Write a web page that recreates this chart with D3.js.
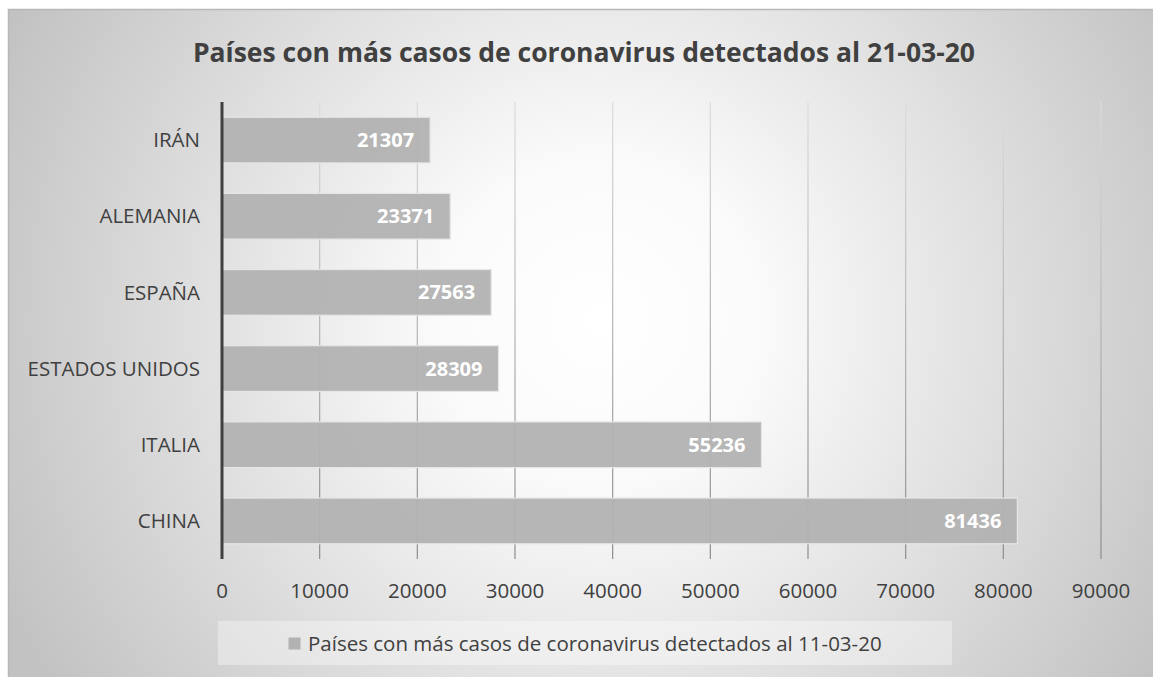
<!DOCTYPE html>
<html lang="es">
<head>
<meta charset="UTF-8">
<script src="https://cdn.jsdelivr.net/npm/d3@7"></script>
<style>
  * { margin: 0; padding: 0; }
  body { background: #fff; width: 1153px; height: 677px; overflow: hidden; }
  text { font-family: "Open Sans", "Noto Sans", sans-serif; }
</style>
</head>
<body>
<script>
  const paises = ["CHINA", "ITALIA", "ESTADOS UNIDOS", "ESPAÑA", "ALEMANIA", "IRÁN"];
  const casos = [81436, 55236, 28309, 27563, 23371, 21307];
  const ticks = [0, 10000, 20000, 30000, 40000, 50000, 60000, 70000, 80000, 90000];
  const titulo = "Países con más casos de coronavirus detectados al 21-03-20";
  const leyenda = "Países con más casos de coronavirus detectados al 11-03-20";

  const W = 1153, H = 677;
  const svg = d3.select("body").append("svg").attr("width", W).attr("height", H);
  const defs = svg.append("defs");

  const bg = defs.append("radialGradient").attr("id", "bg")
    .attr("gradientUnits", "userSpaceOnUse")
    .attr("cx", 600).attr("cy", 320).attr("r", 660);
  bg.append("stop").attr("offset", "0%").attr("stop-color", "#ffffff");
  bg.append("stop").attr("offset", "25%").attr("stop-color", "#fafafa");
  bg.append("stop").attr("offset", "100%").attr("stop-color", "#c2c2c2");

  const gl = defs.append("linearGradient").attr("id", "grid")
    .attr("gradientUnits", "userSpaceOnUse")
    .attr("x1", 0).attr("y1", 102).attr("x2", 0).attr("y2", 559);
  gl.append("stop").attr("offset", "0%").attr("stop-color", "#dcdcdc");
  gl.append("stop").attr("offset", "100%").attr("stop-color", "#8c8c8c");

  // marco
  svg.append("rect").attr("x", 8.5).attr("y", 9.5).attr("width", W + 10).attr("height", H + 10)
    .attr("fill", "url(#bg)").attr("stroke", "#b8b8b8").attr("stroke-width", 1.5);

  svg.append("text").attr("x", 584).attr("y", 62).attr("text-anchor", "middle")
    .attr("font-size", 26.5).attr("font-weight", 700).attr("fill", "#404040")
    .text(titulo);

  const m = { left: 222, right: 1101, top: 102, bottom: 559 };
  const x = d3.scaleLinear().domain([0, 90000]).range([m.left, m.right]);
  const y = d3.scaleBand().domain(paises).range([m.bottom, m.top]).paddingInner(0.4).paddingOuter(0.2);

  // cuadricula
  svg.append("g").selectAll("line").data(ticks.slice(1)).join("line")
    .attr("x1", d => x(d)).attr("x2", d => x(d))
    .attr("y1", m.top).attr("y2", m.bottom)
    .attr("stroke", "url(#grid)").attr("stroke-width", 1.2);

  // barras
  svg.append("g").selectAll("rect").data(paises).join("rect")
    .attr("x", x(0)).attr("y", (d) => y(d))
    .attr("width", (d, i) => x(casos[i]) - x(0))
    .attr("height", y.bandwidth())
    .attr("fill", "#b2b2b2").attr("fill-opacity", 0.95)
    .attr("stroke", "#e6e6e6").attr("stroke-width", 1.2);

  svg.append("g").selectAll("text").data(paises).join("text")
    .attr("x", (d, i) => x(casos[i]) - 16)
    .attr("y", d => y(d) + y.bandwidth() / 2)
    .attr("dy", "0.35em").attr("text-anchor", "end")
    .attr("font-size", 20).attr("font-weight", 700).attr("fill", "#ffffff")
    .text((d, i) => casos[i]);

  // eje y
  svg.append("line").attr("x1", m.left).attr("x2", m.left)
    .attr("y1", m.top).attr("y2", m.bottom)
    .attr("stroke", "#404040").attr("stroke-width", 3);

  svg.append("g").selectAll("text").data(paises).join("text")
    .attr("x", 200).attr("y", d => y(d) + y.bandwidth() / 2)
    .attr("dy", "0.35em").attr("text-anchor", "end")
    .attr("font-size", 20.5).attr("fill", "#404040")
    .text(d => d);

  // eje x
  svg.append("g").selectAll("text").data(ticks).join("text")
    .attr("x", d => x(d)).attr("y", 591).attr("dy", "0.35em")
    .attr("text-anchor", "middle").attr("font-size", 20.5).attr("fill", "#404040")
    .text(d => d);

  // leyenda
  const lg = svg.append("g");
  lg.append("rect").attr("x", 218).attr("y", 621).attr("width", 734).attr("height", 44)
    .attr("fill", "#ffffff").attr("fill-opacity", 0.35);
  lg.append("rect").attr("x", 288).attr("y", 637).attr("width", 13).attr("height", 13)
    .attr("fill", "#b2b2b2").attr("stroke", "#e6e6e6");
  lg.append("text").attr("x", 308).attr("y", 644).attr("dy", "0.35em")
    .attr("font-size", 20.5).attr("fill", "#404040").text(leyenda);
</script>
</body>
</html>
